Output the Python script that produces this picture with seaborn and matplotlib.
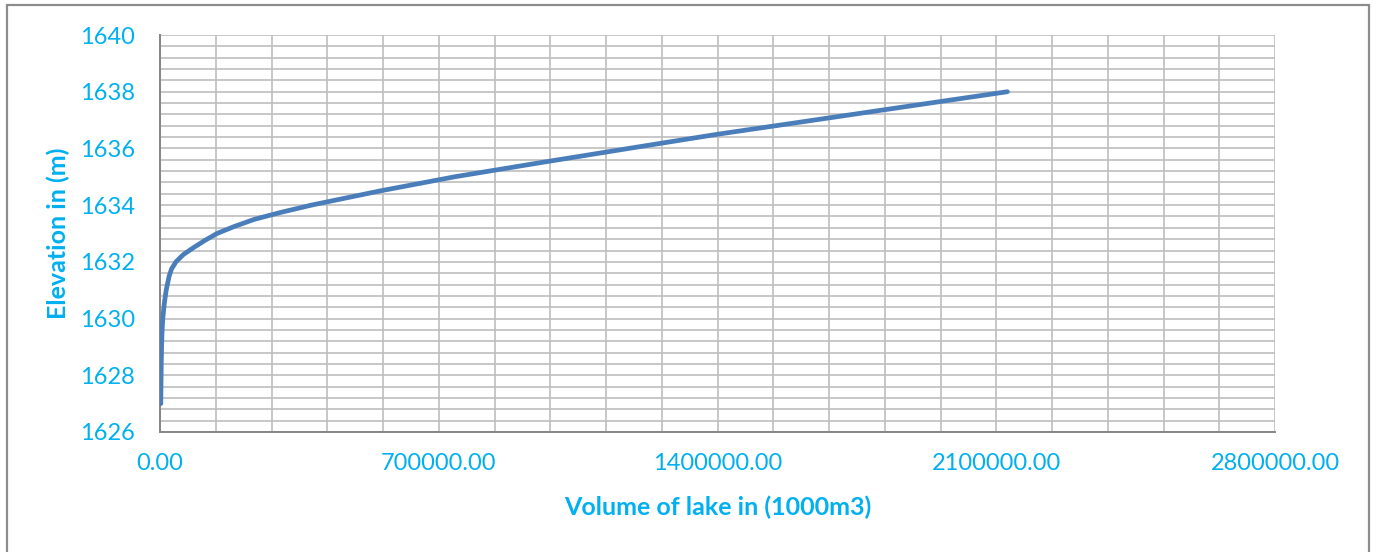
import matplotlib
matplotlib.use("Agg")
import matplotlib.pyplot as plt
from matplotlib.lines import Line2D
from matplotlib.ticker import MultipleLocator, FuncFormatter
import seaborn as sns
import pandas as pd

# Elevation–volume relation of the lake
elevation_m = [1627.0, 1627.5, 1628.0, 1628.5, 1629.0, 1629.5, 1630.0, 1630.5,
               1631.0, 1631.5, 1631.75, 1632.0, 1632.25, 1632.5, 1632.75,
               1633.0, 1633.25, 1633.5, 1633.75, 1634.0, 1634.5, 1635.0,
               1635.5, 1636.0, 1636.5, 1637.0, 1637.5, 1638.0]
volume_1000m3 = [2000, 2300, 2800, 3300, 4000, 5000, 7000, 10500,
                 15500, 23000, 29000, 40000, 58000, 84000, 112000,
                 143000, 187000, 237000, 305000, 380000, 552000, 740000,
                 956000, 1177000, 1400000, 1643000, 1885000, 2128000]

x_ticks = [0, 700000, 1400000, 2100000, 2800000]
y_ticks = [1626, 1628, 1630, 1632, 1634, 1636, 1638, 1640]

df = pd.DataFrame({"volume": volume_1000m3, "elevation": elevation_m})

sns.set_style("white")
plt.rcParams["font.family"] = ["Lato", "DejaVu Sans"]

TEXT = "#00B0F0"
AXIS = "#868686"
GRID = "#BEBEBE"
LINE = "#4A7EBB"

fig = plt.figure(figsize=(13.77, 5.52), dpi=100)
ax = fig.add_axes([160 / 1377, 1 - 432 / 552, 1115 / 1377, 397 / 552])

sns.lineplot(data=df, x="volume", y="elevation", sort=False, estimator=None,
             color=LINE, linewidth=3.4, ax=ax, solid_capstyle="round",
             solid_joinstyle="round", zorder=5)

ax.set_xlim(x_ticks[0], x_ticks[-1])
ax.set_ylim(y_ticks[0], y_ticks[-1])
ax.set_xticks(x_ticks)
ax.set_yticks(y_ticks)
ax.xaxis.set_minor_locator(MultipleLocator(140000))
ax.yaxis.set_minor_locator(MultipleLocator(0.4))
ax.xaxis.set_major_formatter(FuncFormatter(lambda v, p: f"{v:.2f}"))
ax.yaxis.set_major_formatter(FuncFormatter(lambda v, p: f"{v:.0f}"))

ax.grid(True, which="both", color=GRID, linewidth=1.2, zorder=0)
ax.set_axisbelow(True)

for side in ("top", "right"):
    ax.spines[side].set_visible(False)
for side in ("left", "bottom"):
    ax.spines[side].set_color(AXIS)
    ax.spines[side].set_linewidth(1.4)

ax.tick_params(axis="both", which="major", direction="out", length=6,
               width=1.4, color=AXIS, labelcolor=TEXT, labelsize=17)
ax.tick_params(axis="y", which="major", pad=12)
ax.tick_params(axis="x", which="major", pad=9)
ax.tick_params(which="minor", length=0)

ax.set_xlabel("Volume of lake in (1000m3)", color=TEXT, fontsize=18,
              fontweight="bold", va="center")
ax.xaxis.set_label_coords(0.5, -0.19)
ax.set_ylabel("Elevation in (m)", color=TEXT, fontsize=18,
              fontweight="bold", va="center", ha="center")
ax.yaxis.set_label_coords(-0.0915, 0.5)

# Chart frame
W, H = 1377, 552
frame = dict(color="#8C8C8C", linewidth=1.6, transform=fig.transFigure)
fig.add_artist(Line2D([7 / W, 7 / W], [0, 1 - 5 / H], **frame))
fig.add_artist(Line2D([7 / W, 1369 / W], [1 - 5 / H, 1 - 5 / H], **frame))
fig.add_artist(Line2D([1369 / W, 1369 / W], [0, 1 - 5 / H], **frame))

fig.savefig("out.png", dpi=100, facecolor="white")
